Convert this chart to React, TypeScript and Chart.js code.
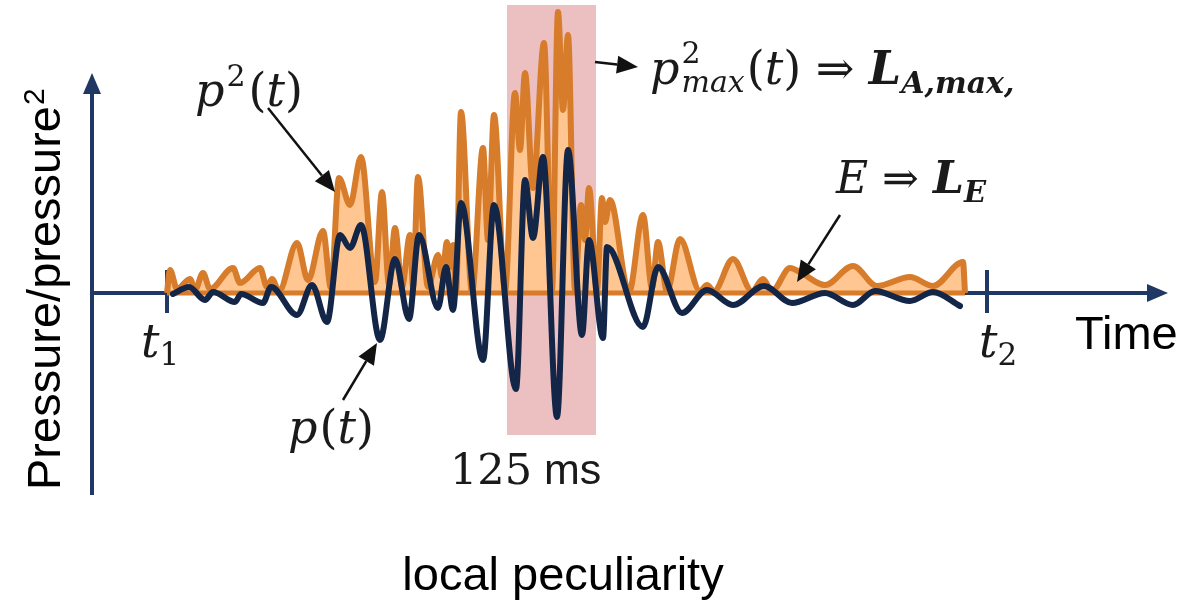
import React, { useEffect, useRef } from "react";
import { Chart, registerables } from "chart.js";
Chart.register(...registerables);

// time in arbitrary units (t1 = 0), amplitude in arbitrary units (0 = baseline)
const pTime = [6, 22, 38, 46, 68, 74, 96, 104, 130, 145, 160, 173, 183, 194, 213, 228, 242, 252, 271, 279, 286, 294, 316, 327, 349, 358, 366, 376, 390, 401, 415, 422, 436, 440, 476, 491, 515, 540, 566, 597, 625, 658, 686, 708, 743, 766, 793];
const pValues = [-1, 6, -7, 1, -9, -1, -10, 6, -22, 8, -29, 58, 45, 68, -47, 34, -26, 58, -15, 26, -17, 90, -67, 88, -96, 113, 55, 136, -124, 143, -42, 53, -45, 46, -34, 26, -20, 3, -12, 7, -10, 0, -12, 2, -8, 1, -13];

const p2Time = [0, 3, 10, 23, 28, 36, 43, 66, 73, 93, 100, 105, 112, 130, 141, 156, 164, 172, 183, 194, 208, 215, 222, 228, 235, 243, 246, 251, 261, 271, 275, 280, 283, 286, 289, 294, 305, 316, 321, 327, 338, 348, 353, 358, 366, 377, 385, 391, 396, 401, 408, 414, 418, 422, 430, 435, 438, 443, 462, 476, 485, 491, 500, 513, 533, 540, 547, 566, 585, 596, 605, 623, 633, 658, 686, 710, 743, 766, 796, 798];
const p2Values = [0, 23, 4, 14, 3, 20, 4, 25, 10, 25, 6, 14, 2, 50, 13, 62, 5, 115, 88, 136, 11, 101, 8, 65, 6, 58, 6, 116, 6, 38, 16, 51, 26, 48, 1, 181, 1, 145, 53, 178, 2, 200, 143, 220, 105, 250, 3, 281, 183, 258, 3, 88, 53, 105, 3, 95, 71, 93, 1, 78, 5, 51, 2, 54, 2, 8, 2, 34, 2, 14, 2, 25, 21, 8, 27, 7, 16, 7, 31, 0];

const t1 = 0;
const t2 = 820;
const windowStart = 340; // 125 ms window
const windowEnd = 429;
const windowTop = 288;
const windowBottom = -142;

const ORANGE = "rgb(214,124,43)";
const ORANGE_FILL = "rgb(255,198,145)";
const NAVY = "rgb(19,38,72)";
const AXIS = "rgb(32,56,100)";
const PINK = "rgb(236,191,193)";

const serifI = (s: number) => `italic ${s}px "DejaVu Serif"`;
const serif = (s: number) => `${s}px "DejaVu Serif"`;
const serifBI = (s: number) => `italic bold ${s}px "DejaVu Serif"`;
const sans = (s: number) => `${s}px "Liberation Sans", Arial, sans-serif`;

type Seg = { text: string; font: string; dy?: number; noAdvance?: boolean; dx?: number };

function drawRich(ctx: CanvasRenderingContext2D, x: number, y: number, segs: Seg[]) {
  let cx = x;
  for (const s of segs) {
    ctx.font = s.font;
    cx += s.dx || 0;
    ctx.fillText(s.text, cx, y + (s.dy || 0));
    if (!s.noAdvance) cx += ctx.measureText(s.text).width;
  }
}

function arrow(ctx: CanvasRenderingContext2D, x0: number, y0: number, x1: number, y1: number, head = 21, hw = 9, lw = 2.5, color = "#111") {
  const ang = Math.atan2(y1 - y0, x1 - x0);
  const bx = x1 - head * Math.cos(ang);
  const by = y1 - head * Math.sin(ang);
  ctx.strokeStyle = color;
  ctx.fillStyle = color;
  ctx.lineWidth = lw;
  ctx.beginPath();
  ctx.moveTo(x0, y0);
  ctx.lineTo(bx, by);
  ctx.stroke();
  ctx.beginPath();
  ctx.moveTo(x1, y1);
  ctx.lineTo(bx + hw * Math.sin(ang), by - hw * Math.cos(ang));
  ctx.lineTo(bx - hw * Math.sin(ang), by + hw * Math.cos(ang));
  ctx.closePath();
  ctx.fill();
}

const decor = {
  id: "decor",
  beforeDatasetsDraw(chart: any) {
    const { ctx, scales } = chart;
    const X = (v: number) => scales.x.getPixelForValue(v);
    const Y = (v: number) => scales.y.getPixelForValue(v);
    ctx.save();
    ctx.fillStyle = PINK;
    ctx.fillRect(X(windowStart), Y(windowTop), X(windowEnd) - X(windowStart), Y(windowBottom) - Y(windowTop));
    // axes
    ctx.strokeStyle = AXIS;
    ctx.fillStyle = AXIS;
    ctx.lineWidth = 4;
    const ax = X(-75);
    const y0 = Y(0);
    ctx.beginPath();
    ctx.moveTo(ax, Y(-202));
    ctx.lineTo(ax, Y(200));
    ctx.moveTo(ax, y0);
    ctx.lineTo(X(985), y0);
    ctx.moveTo(X(t1), Y(23));
    ctx.lineTo(X(t1), Y(-20));
    ctx.moveTo(X(t2), Y(23));
    ctx.lineTo(X(t2), Y(-20));
    ctx.stroke();
    ctx.beginPath();
    ctx.moveTo(ax, Y(220));
    ctx.lineTo(ax - 9, Y(199));
    ctx.lineTo(ax + 9, Y(199));
    ctx.closePath();
    ctx.fill();
    ctx.beginPath();
    ctx.moveTo(X(1001), y0);
    ctx.lineTo(X(980), y0 - 9);
    ctx.lineTo(X(980), y0 + 9);
    ctx.closePath();
    ctx.fill();
    ctx.restore();
  },
  afterDatasetsDraw(chart: any) {
    const { ctx, scales } = chart;
    const X = (v: number) => scales.x.getPixelForValue(v);
    const Y = (v: number) => scales.y.getPixelForValue(v);
    ctx.save();
    // annotation arrows
    arrow(ctx, X(101), Y(185), X(168), Y(101));
    arrow(ctx, X(176), Y(-107), X(210), Y(-50));
    arrow(ctx, X(428), Y(231), X(471), Y(226));
    arrow(ctx, X(673), Y(78), X(630), Y(11));

    ctx.fillStyle = "#1a1a1a";
    ctx.textBaseline = "alphabetic";
    ctx.textAlign = "left";
    // p^2(t)
    drawRich(ctx, 195, 106, [
      { text: "p", font: serifI(46) },
      { text: "2", font: serif(30), dy: -20, dx: 2 },
      { text: "(", font: serif(46), dx: 3 },
      { text: "t", font: serifI(46) },
      { text: ")", font: serif(46) },
    ]);
    // p(t)
    drawRich(ctx, 288, 443, [
      { text: "p", font: serifI(46) },
      { text: "(", font: serif(46), dx: 2 },
      { text: "t", font: serifI(46) },
      { text: ")", font: serif(46) },
    ]);
    // t1, t2
    drawRich(ctx, 141, 357, [
      { text: "t", font: serifI(46) },
      { text: "1", font: serif(31), dy: 8 },
    ]);
    drawRich(ctx, 979, 357, [
      { text: "t", font: serifI(46) },
      { text: "2", font: serif(31), dy: 8 },
    ]);
    // 125 ms
    drawRich(ctx, 450, 484, [
      { text: "125", font: serif(43) },
      { text: " ms", font: sans(43) },
    ]);
    // p^2_max(t) => L_A,max,
    drawRich(ctx, 650, 84, [
      { text: "p", font: serifI(46) },
      { text: "2", font: serif(30), dy: -21, noAdvance: true, dx: 2 },
      { text: "max", font: serifI(30), dy: 8 },
      { text: "(", font: serif(46), dx: 2 },
      { text: "t", font: serifI(46) },
      { text: ")", font: serif(46) },
      { text: " ⇒ ", font: serif(46) },
      { text: "L", font: serifBI(46) },
      { text: "A,max,", font: serifBI(30), dy: 9 },
    ]);
    // E => L_E
    drawRich(ctx, 836, 193, [
      { text: "E", font: serifI(44) },
      { text: " ⇒ ", font: serif(44) },
      { text: "L", font: serifBI(44) },
      { text: "E", font: serifBI(29), dy: 9 },
    ]);
    // Time
    ctx.fillStyle = "#000";
    ctx.font = sans(47);
    ctx.fillText("Time", 1075, 349);
    // local peculiarity
    ctx.textAlign = "center";
    ctx.fillText("local peculiarity", 563, 590);
    // y label
    ctx.save();
    ctx.translate(60, 490);
    ctx.rotate(-Math.PI / 2);
    ctx.textAlign = "left";
    drawRich(ctx, 0, 0, [
      { text: "Pressure/pressure", font: sans(47) },
      { text: "2", font: sans(30), dy: -16, dx: 1 },
    ]);
    ctx.restore();
    ctx.restore();
  },
};

export default function App() {
  const ref = useRef<HTMLCanvasElement>(null);
  useEffect(() => {
    if (!ref.current) return;
    const chart = new Chart(ref.current, {
      type: "line",
      data: {
        datasets: [
          {
            label: "p(t)",
            data: pTime.map((t, i) => ({ x: t, y: pValues[i] })),
            borderColor: NAVY,
            borderWidth: 6,
            pointRadius: 0,
            cubicInterpolationMode: "monotone",
            fill: false,
            borderCapStyle: "round",
            borderJoinStyle: "round",
          },
          {
            label: "baseline",
            data: [
              { x: p2Time[0], y: 0 },
              { x: p2Time[p2Time.length - 1], y: 0 },
            ],
            borderColor: ORANGE,
            borderWidth: 5,
            pointRadius: 0,
            fill: false,
          },
          {
            label: "p²(t)",
            data: p2Time.map((t, i) => ({ x: t, y: p2Values[i] })),
            borderColor: ORANGE,
            backgroundColor: ORANGE_FILL,
            borderWidth: 6,
            pointRadius: 0,
            cubicInterpolationMode: "monotone",
            fill: "origin",
            borderJoinStyle: "round",
          },
        ],
      } as any,
      options: {
        animation: false,
        responsive: false,
        devicePixelRatio: 1,
        events: [],
        layout: { padding: 0 },
        plugins: { legend: { display: false }, tooltip: { enabled: false } },
        scales: {
          x: { type: "linear", display: false, min: -167, max: 1029 },
          y: { type: "linear", display: false, min: -312, max: 293 },
        },
      } as any,
      plugins: [decor],
    });
    return () => chart.destroy();
  }, []);
  return (
    <div style={{ position: "absolute", left: 0, top: 0, width: 1196, height: 605, background: "#fff" }}>
      <canvas ref={ref} width={1196} height={605} style={{ display: "block" }} />
    </div>
  );
}
